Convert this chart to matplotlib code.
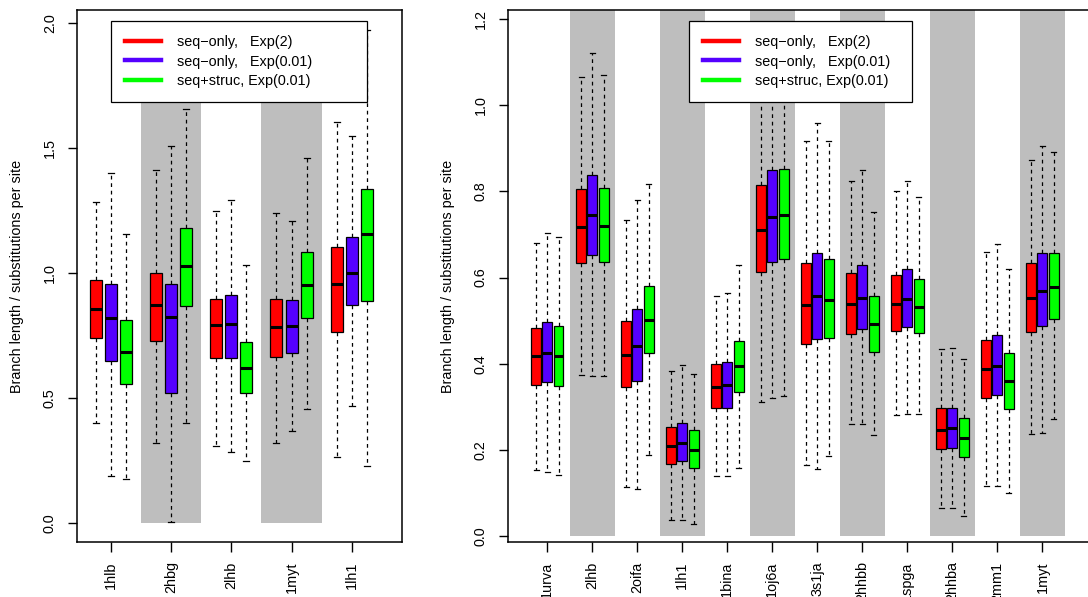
import matplotlib
matplotlib.use('Agg')
from matplotlib import pyplot as plt
from matplotlib.lines import Line2D

plt.rcParams['font.family'] = ['Liberation Sans', 'DejaVu Sans']
plt.rcParams['font.size'] = 10.4

# series names and colours
labels = ['seq\u2212only,   Exp(2)', 'seq\u2212only,   Exp(0.01)', 'seq+struc, Exp(0.01)']
colors = ['#FF0000', '#5500FF', '#00FF00']

# left panel: (whisker low, Q1, median, Q3, whisker high) per protein
left_names = ['1hlb', '2hbg', '2lhb', '1myt', '1lh1']
left_exp2 = [(0.400, 0.742, 0.856, 0.973, 1.285),
             (0.319, 0.727, 0.871, 1.001, 1.411),
             (0.309, 0.662, 0.791, 0.897, 1.247),
             (0.319, 0.666, 0.786, 0.897, 1.240),
             (0.263, 0.765, 0.958, 1.106, 1.605)]
left_exp001 = [(0.190, 0.649, 0.820, 0.958, 1.399),
               (0.005, 0.520, 0.826, 0.958, 1.509),
               (0.284, 0.662, 0.798, 0.913, 1.293),
               (0.368, 0.681, 0.788, 0.894, 1.209),
               (0.467, 0.871, 1.002, 1.145, 1.550)]
left_struc = [(0.178, 0.558, 0.684, 0.811, 1.156),
              (0.400, 0.870, 1.030, 1.182, 1.655),
              (0.248, 0.522, 0.619, 0.725, 1.031),
              (0.456, 0.821, 0.954, 1.084, 1.460),
              (0.228, 0.890, 1.156, 1.337, 1.974)]
left_shaded = ['2hbg', '1myt']

# right panel
right_names = ['1urva', '2lhb', '2oifa', '1lh1', '1bina', '1oj6a',
               '3s1ja', '2hhbb', '1spga', '2hhba', '2mm1', '1myt']
right_exp2 = [(0.154, 0.351, 0.417, 0.484, 0.681),
              (0.373, 0.633, 0.718, 0.806, 1.065),
              (0.113, 0.346, 0.421, 0.500, 0.733),
              (0.038, 0.168, 0.209, 0.254, 0.384),
              (0.139, 0.296, 0.346, 0.400, 0.558),
              (0.311, 0.613, 0.711, 0.814, 1.100),
              (0.165, 0.446, 0.537, 0.634, 0.916),
              (0.259, 0.470, 0.538, 0.611, 0.823),
              (0.281, 0.475, 0.538, 0.605, 0.801),
              (0.064, 0.202, 0.247, 0.296, 0.435),
              (0.115, 0.320, 0.387, 0.456, 0.660),
              (0.236, 0.474, 0.552, 0.633, 0.872)]
right_exp001 = [(0.148, 0.357, 0.425, 0.496, 0.704),
                (0.371, 0.653, 0.744, 0.838, 1.121),
                (0.108, 0.359, 0.441, 0.528, 0.779),
                (0.038, 0.174, 0.216, 0.263, 0.397),
                (0.139, 0.298, 0.350, 0.404, 0.565),
                (0.320, 0.637, 0.741, 0.849, 1.140),
                (0.156, 0.457, 0.556, 0.658, 0.958),
                (0.259, 0.481, 0.552, 0.628, 0.850),
                (0.284, 0.485, 0.551, 0.620, 0.825),
                (0.064, 0.205, 0.250, 0.298, 0.437),
                (0.117, 0.327, 0.395, 0.467, 0.678),
                (0.238, 0.488, 0.569, 0.656, 0.906)]
right_struc = [(0.141, 0.349, 0.417, 0.487, 0.693),
               (0.372, 0.635, 0.719, 0.808, 1.070),
               (0.188, 0.424, 0.501, 0.581, 0.816),
               (0.028, 0.159, 0.200, 0.245, 0.375),
               (0.159, 0.334, 0.395, 0.452, 0.628),
               (0.325, 0.643, 0.744, 0.853, 1.120),
               (0.185, 0.459, 0.549, 0.642, 0.916),
               (0.234, 0.427, 0.491, 0.556, 0.752),
               (0.284, 0.472, 0.532, 0.597, 0.787),
               (0.046, 0.183, 0.227, 0.274, 0.410),
               (0.099, 0.294, 0.359, 0.425, 0.620),
               (0.271, 0.503, 0.578, 0.658, 0.891)]
right_shaded = ['2lhb', '1lh1', '1oj6a', '2hhbb', '2hhba', '1myt']


def panel(ax, names, groups, shaded, shade_top, bw, xlim, ylim, yticks, leg_box, ylab_x):
    pos = list(range(1, len(names) + 1))
    sp = [pos[names.index(n)] for n in shaded]
    ax.bar(sp, shade_top, width=1.0, bottom=0, color='#BEBEBE', zorder=0)
    for k, g in enumerate(groups):
        stats = [dict(whislo=s[0], q1=s[1], med=s[2], q3=s[3], whishi=s[4]) for s in g]
        ax.bxp(stats, positions=[p + (k - 1) * 0.25 for p in pos], widths=bw,
               showfliers=False, patch_artist=True, capwidths=bw * 0.5,
               boxprops=dict(facecolor=colors[k], edgecolor='black', linewidth=0.9),
               medianprops=dict(color='black', linewidth=2.2, solid_capstyle='butt'),
               whiskerprops=dict(color='black', linewidth=0.9, linestyle=(0, (3, 3))),
               capprops=dict(color='black', linewidth=0.9),
               manage_ticks=False, zorder=2)
    ax.set_xlim(xlim)
    ax.set_ylim(ylim)
    ax.set_xticks(pos)
    ax.set_xticklabels(names, rotation=90)
    ax.set_yticks(yticks)
    ax.set_yticklabels(['%.1f' % v for v in yticks], rotation=90, va='center')
    ax.tick_params(axis='x', length=7, width=1, pad=7)
    ax.tick_params(axis='y', length=6.5, width=1, pad=8)
    for s in ax.spines.values():
        s.set_linewidth(1.1)
    ax.set_ylabel('Branch length / substitutions per site')
    ax.yaxis.set_label_coords(ylab_x, 0.5)
    handles = [Line2D([], [], color=c, linewidth=3.2) for c in colors]
    leg = ax.legend(handles, labels, loc='upper left', bbox_to_anchor=leg_box, mode='expand',
                    borderaxespad=0, fancybox=False, framealpha=1, edgecolor='black',
                    handlelength=2.5, handletextpad=1.1, borderpad=0.95, labelspacing=0.4)
    leg.get_frame().set_linewidth(0.9)
    leg.set_zorder(5)


fig = plt.figure(figsize=(10.88, 5.97), dpi=100)
ax1 = fig.add_axes([77 / 1088, 55 / 597, 325 / 1088, 532 / 597])
ax2 = fig.add_axes([508 / 1088, 55 / 597, 592 / 1088, 532 / 597])

panel(ax1, left_names, [left_exp2, left_exp001, left_struc], left_shaded, 2.0, 0.2,
      (0.435, 5.836), (-0.076, 2.052), [0, 0.5, 1.0, 1.5, 2.0],
      (0.1046, 0.825, 0.7874, 0.1543), -0.163)
panel(ax2, right_names, [right_exp2, right_exp001, right_struc], right_shaded, 1.3, 0.22,
      (0.127, 13.28), (-0.0139, 1.221), [0, 0.2, 0.4, 0.6, 0.8, 1.0, 1.2],
      (0.3057, 0.825, 0.3767, 0.1543), -0.0895)

fig.savefig('out.png', dpi=100)
